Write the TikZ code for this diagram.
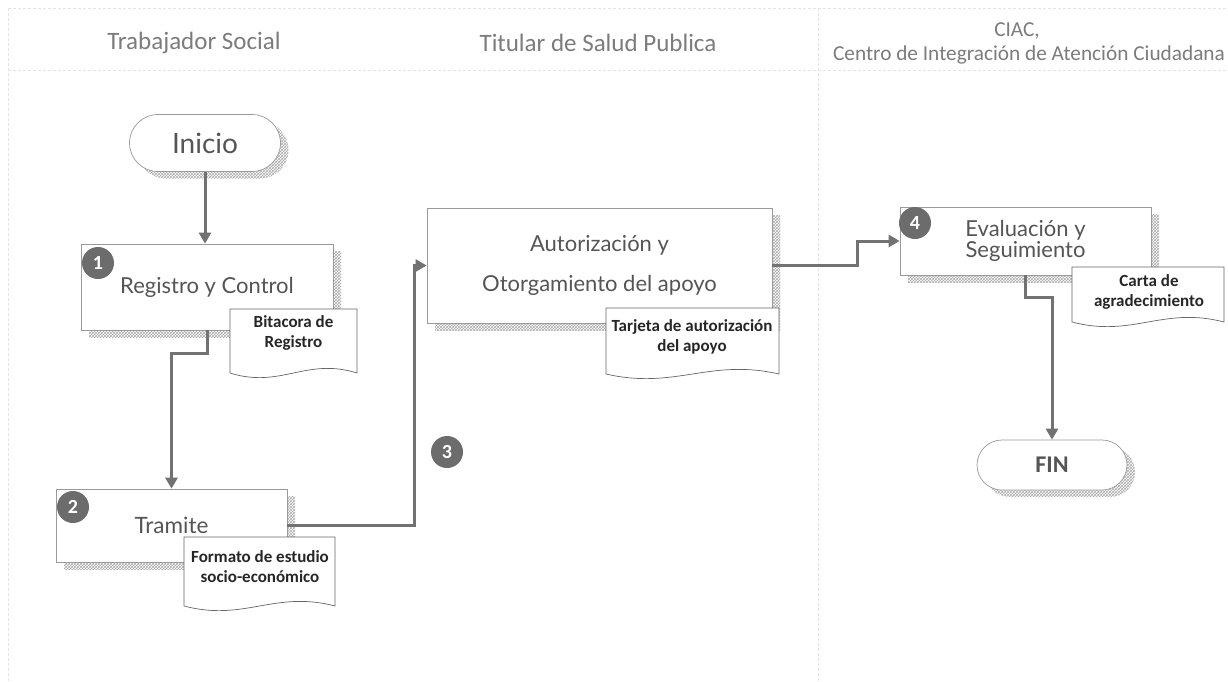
\documentclass[tikz,border=0pt]{standalone}
\usepackage{fontspec}
\setmainfont{Carlito}
\newfontfamily\boxfont{Lato}
\usetikzlibrary{arrows.meta,shapes.misc,patterns,shadows,calc}
\definecolor{txtcol}{HTML}{555555}
\definecolor{hdrcol}{HTML}{7C7C7C}
\definecolor{conncol}{HTML}{727272}
\definecolor{edgecol}{HTML}{9A9A9A}
\definecolor{badgecol}{HTML}{6C6C6C}
\definecolor{lanecol}{HTML}{E4E4E4}
\tikzset{
  lanel/.style={draw=lanecol,line width=0.8pt,densely dashed},
  hdrtext/.style={text=hdrcol,font=\fontsize{25}{27}\selectfont,inner sep=0pt},
  dotshadow/.style={general shadow={shadow xshift=8pt,shadow yshift=-7pt,pattern=crosshatch,pattern color=gray!65}},
  procbox/.style={draw=edgecol,line width=0.7pt,fill=white,dotshadow,text=txtcol,
    font=\boxfont\fontsize{22}{26}\selectfont,align=center,inner sep=0pt},
  termbox/.style={rounded rectangle,draw=edgecol,line width=0.7pt,fill=white,dotshadow,inner sep=0pt},
  docshape/.style={draw=black!60,line width=0.7pt,fill=white},
  doctext/.style={font=\bfseries\fontsize{17}{20}\selectfont,text=black!85,align=center,inner sep=0pt},
  connector/.style={draw=conncol,line width=3pt,-{Triangle[length=11pt,width=12pt]}},
  badge/.style={circle,fill=badgecol,minimum size=32pt,inner sep=0pt,text=white,
    font=\bfseries\fontsize{20}{20}\selectfont},
}
\newcommand\docpath[4]{%
  \filldraw[docshape] (#1,#2) -- (#3,#2) -- (#3,#4)
    .. controls ({#3-0.4*(#3-#1)},{#4-16}) and ({#1+0.4*(#3-#1)},{#4+16}) .. (#1,#4) -- cycle;}
\begin{document}
\begin{tikzpicture}[x=1pt,y=-1pt]
\useasboundingbox[fill=white] (0,0) rectangle (1228,681);
% lanes
\draw[lanel] (8,8) -- (1228,8);
\draw[lanel] (8,70) -- (1228,70);
\draw[lanel] (8,8) -- (8,681);
\draw[lanel] (818,8) -- (818,681);
% headers
\node[hdrtext] (h1) at (194,43) {Trabajador Social};
\node[hdrtext] (h2) at (598,43) {Titular de Salud Publica};
\node[hdrtext,font=\fontsize{21.3}{23}\selectfont] (h3a) at (1017,31) {CIAC,};
\node[hdrtext,font=\fontsize{21.3}{23}\selectfont] (h3b) at (1029,55) {Centro de Integración de Atención Ciudadana};
% boxes
\node[termbox,minimum width=151pt,minimum height=57pt,text=txtcol,font=\boxfont\fontsize{28}{30}\selectfont] (inicio) at (205,143) {Inicio};
\node[procbox,minimum width=252pt,minimum height=86pt] (reg) at (207,287) {Registro y Control};
\node[procbox,minimum width=231pt,minimum height=73pt,font=\boxfont\fontsize{22.5}{26}\selectfont] (tram) at (171.5,525.5) {Tramite};
\node[procbox,minimum width=345pt,minimum height=115pt,font=\boxfont\fontsize{22}{40}\selectfont] (aut) at (599.5,265.5) {Autorización y\\Otorgamiento del apoyo};
\node[procbox,minimum width=251pt,minimum height=68pt,font=\boxfont\fontsize{22}{21}\selectfont] (eval) at (1025.5,241) {Evaluación y\\Seguimiento};
\node[termbox,minimum width=150pt,minimum height=50pt,text=txtcol,font=\bfseries\fontsize{24}{26}\selectfont] (fin) at (1052,465) {FIN};
% connectors
\draw[connector] (inicio.south) -- (inicio.south |- reg.north);
\draw[connector] (reg.south) -- ++(0,23) -| (tram.north);
\draw[connector] (tram.east) -| ($(aut.west)+(-12,0)$) -- (aut.west);
\draw[connector] (aut.east) -- ++(85,0) |- (eval.west);
\draw[connector] (eval.south) -- ++(0,22) -| (fin.north);
% documents
\docpath{230}{309}{357}{373}
\node[doctext] (bit) at (293.5,333) {Bitacora de\\Registro};
\docpath{184}{537}{335}{606}
\node[doctext] (fmt) at (260,567) {Formato de estudio\\socio-económico};
\docpath{606}{308}{779}{374}
\node[doctext] (tarj) at (692,337) {Tarjeta de autorización\\del apoyo};
\docpath{1072}{267}{1224}{322}
\node[doctext] (carta) at (1149,292) {Carta de\\agradecimiento};
% badges
\node[badge] (b1) at (98,263) {1};
\node[badge] (b2) at (73,507) {2};
\node[badge] (b3) at (447,452) {3};
\node[badge] (b4) at (915,223) {4};
\end{tikzpicture}
\end{document}
